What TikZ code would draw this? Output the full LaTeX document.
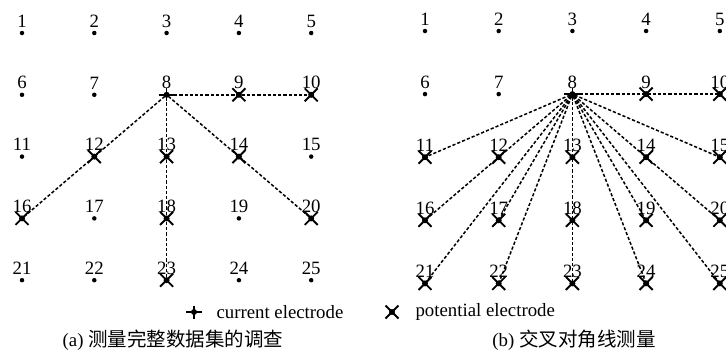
\documentclass[tikz,border=0pt]{standalone}
\usepackage{fontspec}
\setmainfont{Liberation Serif}
\newfontfamily\cjk{Noto Sans CJK SC}
\usetikzlibrary{positioning}

\tikzset{
  elec/.style={circle, fill, inner sep=0pt, minimum size=4.5pt,
    label={[inner sep=2pt, label distance=1pt]above:#1}},
  probe/.style={dash pattern=on 3.2pt off 2pt, line width=1.5pt},
  potmark/.pic={\draw[line width=1.9pt] (-6.5,-6.5) -- (6.5,6.5) (-6.5,6.5) -- (6.5,-6.5);
    \fill (0,0) circle (3);},
  curmark/.pic={\draw[line width=1.6pt] (-8,0) -- (8,0) (0,-6.5) -- (0,6.5);
    \fill (0,0) circle (3);}
}
\newcommand{\gridsize}{\fontsize{18.8}{21}\selectfont}

\begin{document}
\begin{tikzpicture}[x=1pt, y=-1pt, font=\gridsize]
  \useasboundingbox (0,0) rectangle (726,354);

  % electrode grids
  \foreach \r in {0,...,4}
    \foreach \c in {1,...,5} {
      \pgfmathtruncatemacro{\n}{5*\r+\c}
      \node[elec=\n] (a\n) at ({22+72.3*(\c-1)}, {33+61.8*\r}) {};
      \node[elec=\n] (b\n) at ({425+73.7*(\c-1)}, {31+63.1*\r}) {};
    }

  % (a) full data set
  \foreach \t in {10,16,20,23}
    \draw[probe] (a8) -- (a\t);
  \foreach \t in {9,10,12,13,14,16,18,20,23}
    \pic at (a\t) {potmark};
  \pic at (a8) {curmark};

  % (b) cross diagonal
  \foreach \t in {10,11,15,16,17,19,20,21,22,23,24,25}
    \draw[probe] (b8) -- (b\t);
  \foreach \t in {9,...,25}
    \pic at (b\t) {potmark};
  \pic at (b8) {curmark};

  % legend
  \coordinate (curkey) at (194,312);
  \coordinate (potkey) at (392,312);
  \pic at (curkey) {curmark};
  \pic at (potkey) {potmark};
  \node[anchor=west, xshift=19pt] (curtxt) at (curkey) {current electrode};
  \node[anchor=west, xshift=20pt] (pottxt) at (potkey) {potential electrode};

  % captions
  \node (capa) at (173,340) {(a) {\cjk\fontsize{19.5}{20}\selectfont 测量完整数据集的调查}};
  \node (capb) at (574,340) {(b) {\cjk\fontsize{19.5}{20}\selectfont 交叉对角线测量}};
\end{tikzpicture}
\end{document}
